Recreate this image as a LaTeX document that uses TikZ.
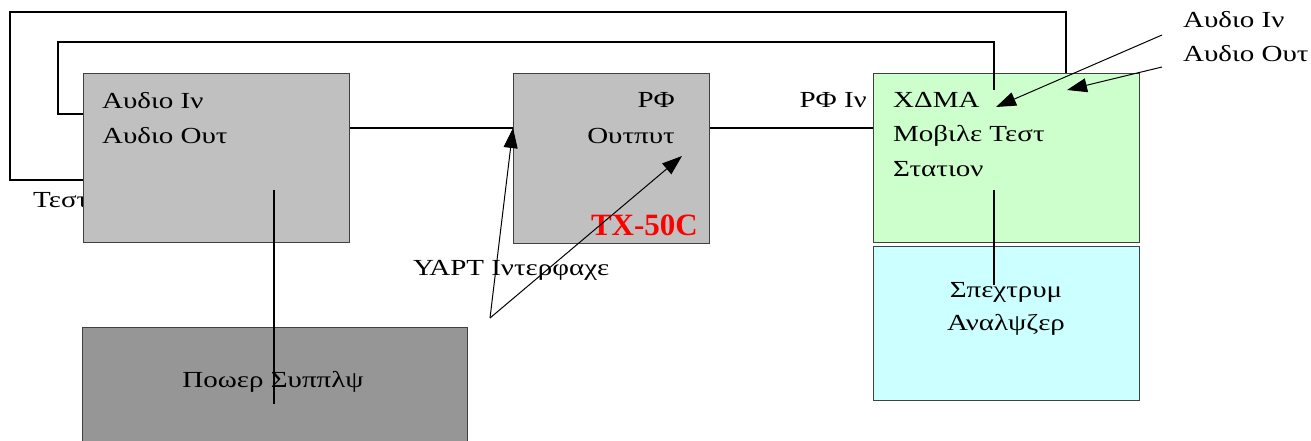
\documentclass[tikz,border=0pt]{standalone}
\usepackage{fontspec}
\setmainfont{Liberation Serif}[FakeStretch=1.26]
\newfontfamily\latinfont{Liberation Serif}
\usetikzlibrary{arrows.meta}
\definecolor{boxgray}{HTML}{C0C0C0}
\definecolor{psgray}{HTML}{969696}
\definecolor{lgreen}{HTML}{CCFFCC}
\definecolor{lcyan}{HTML}{CCFFFF}
\definecolor{edgegray}{HTML}{404040}
\begin{document}
\begin{tikzpicture}[x=1pt,y=-1pt,
  box/.style={draw=edgegray, line width=1.4pt, rectangle, inner sep=0pt, anchor=north west},
  lbl/.style={inner sep=0pt, font=\fontsize{23}{27}\selectfont},
  wire/.style={line width=2.8pt, black},
  pointer/.style={line width=1pt, black, -{Triangle[length=20pt,width=14pt]}}]
\useasboundingbox (0,0) rectangle (1311,441);
\clip (0,0) rectangle (1311,441);
% label partly hidden by the audio box
\node[lbl, anchor=base west] (test) at (33,207) {Τεστ};
% boxes
\node[box, fill=boxgray, minimum width=266pt, minimum height=169pt] (audio) at (83,73) {};
\node[box, fill=boxgray, minimum width=196pt, minimum height=170pt] (tx) at (513,73) {};
\node[box, fill=lgreen, minimum width=266pt, minimum height=169pt] (xdma) at (873,73) {};
\node[box, fill=lcyan, minimum width=266pt, minimum height=154pt] (spec) at (873,246) {};
\node[box, fill=psgray, minimum width=385pt, minimum height=160pt] (ps) at (82,327) {};
% texts
\node[lbl, anchor=base west] (ain) at (102,109) {Αυδιο Ιν};
\node[lbl, anchor=base west] (aout) at (102,143) {Αυδιο Ουτ};
\node[lbl, anchor=base east] (rf) at (675,108) {ΡΦ};
\node[lbl, anchor=base east] (rfout) at (675,143) {Ουτπυτ};
\node[inner sep=0pt, anchor=base east, text=red, font=\latinfont\fontsize{31}{31}\selectfont\bfseries] (model) at (698,235) {TX-50C};
\node[lbl, anchor=base east] (rfin) at (867,108) {ΡΦ Ιν};
\node[lbl, anchor=base west] (g1) at (893,108) {ΧΔΜΑ};
\node[lbl, anchor=base west] (g2) at (893,142) {Μοβιλε Τεστ};
\node[lbl, anchor=base west] (g3) at (893,176) {Στατιον};
\node[lbl, anchor=base] (s1) at (1006,297) {Σπεχτρυμ};
\node[lbl, anchor=base] (s2) at (1006,330) {Αναλψζερ};
\node[lbl, anchor=base] (pstext) at (273,387) {Ποωερ Συππλψ};
\node[lbl, anchor=base west] (uart) at (413,275) {ΥΑΡΤ Ιντερφαχε};
\node[lbl, anchor=base west] (rin) at (1183,28) {Αυδιο Ιν};
\node[lbl, anchor=base west] (rout) at (1183,62) {Αυδιο Ουτ};
% wires
\coordinate (oa) at (83,180);
\coordinate (oc1) at (10,12);
\coordinate (oc2) at (1066,12);
\draw[wire] (oa) -| (oc1) -- (oc2) -- (oc2 |- xdma.north);
\coordinate (ia) at (83,114);
\coordinate (ic1) at (58,42);
\coordinate (ic2) at (994,42);
\coordinate (ie) at (994,90);
\draw[wire] (ia) -| (ic1) -- (ic2) -- (ie);
\coordinate (rfy) at (0,128);
\draw[wire] (audio.east |- rfy) -- (tx.west |- rfy);
\draw[wire] (tx.east |- rfy) -- (xdma.west |- rfy);
\coordinate (pstop) at (274,190);
\coordinate (psend) at (274,404);
\draw[wire] (pstop) -- (psend);
\coordinate (gtop) at (994,190);
\coordinate (gend) at (994,285);
\draw[wire] (gtop) -- (gend);
% pointers
\coordinate (yapt) at (490,318);
\coordinate (txin) at (682,156);
\draw[pointer] (yapt) -- (tx.west |- rfy);
\draw[pointer] (yapt) -- (txin);
\coordinate (rinfrom) at (1162,35);
\coordinate (rinto) at (996,107);
\coordinate (routfrom) at (1162,67);
\coordinate (routto) at (1067,90);
\draw[pointer] (rinfrom) -- (rinto);
\draw[pointer] (routfrom) -- (routto);
\end{tikzpicture}
\end{document}
